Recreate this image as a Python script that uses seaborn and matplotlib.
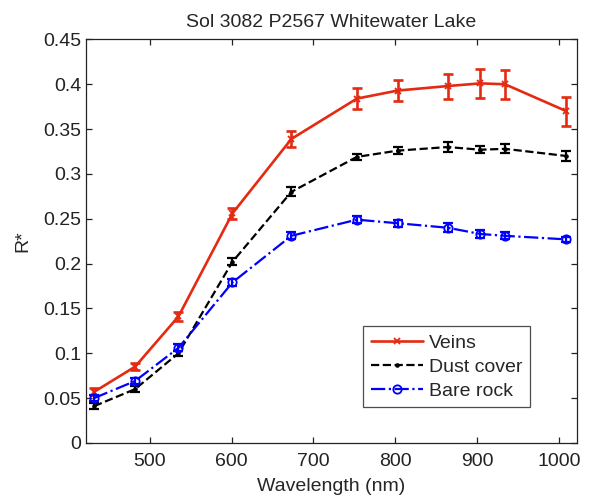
import matplotlib
matplotlib.use("agg")
import matplotlib.pyplot as plt
import numpy as np
import pandas as pd
import seaborn as sns

# Pancam filter wavelengths (nm)
wavelength = [432, 482, 535, 601, 673, 753, 803, 864, 904, 934, 1009]

veins = [0.057, 0.085, 0.141, 0.256, 0.339, 0.384, 0.393, 0.398, 0.401, 0.400, 0.370]
veins_err = [0.004, 0.004, 0.005, 0.006, 0.009, 0.012, 0.012, 0.014, 0.016, 0.016, 0.016]

dust = [0.041, 0.060, 0.100, 0.202, 0.280, 0.319, 0.326, 0.330, 0.327, 0.328, 0.320]
dust_err = [0.003, 0.003, 0.003, 0.004, 0.005, 0.003, 0.004, 0.006, 0.004, 0.005, 0.006]

bare = [0.050, 0.069, 0.106, 0.179, 0.231, 0.249, 0.245, 0.240, 0.233, 0.231, 0.227]
bare_err = [0.003, 0.003, 0.004, 0.004, 0.004, 0.004, 0.004, 0.005, 0.004, 0.004, 0.003]

series = [
    ("Veins", veins, veins_err, "#e52a12", "-", "x", 1.9),
    ("Dust cover", dust, dust_err, "black", "--", ".", 1.6),
    ("Bare rock", bare, bare_err, "#0000ff", "-.", "o", 1.6),
]

FS = 14

sns.set_style("ticks")
plt.rcParams["font.family"] = ["Liberation Sans", "DejaVu Sans"]

fig = plt.figure(figsize=(5.97, 4.96), dpi=100)
ax = fig.add_axes([0.144, 0.107, 0.8225, 0.8135])

for name, vals, errs, color, ls, marker, lw in series:
    df = pd.DataFrame({"wavelength": wavelength, "R": vals})
    sns.lineplot(
        data=df, x="wavelength", y="R", ax=ax, color=color, linestyle=ls,
        linewidth=lw, marker=marker, markersize=6 if marker == "o" else 4,
        markerfacecolor="none" if marker == "o" else color,
        markeredgecolor=color, markeredgewidth=1.3, label=name,
    )
    ax.errorbar(wavelength, vals, yerr=errs, fmt="none", ecolor=color,
                elinewidth=lw, capsize=3.5, capthick=lw)

ax.set_xlim(422, 1022)
ax.set_ylim(0, 0.45)
ax.set_xticks([500, 600, 700, 800, 900, 1000])
ax.set_yticks(np.arange(0, 0.46, 0.05))
ax.set_yticklabels(["0", "0.05", "0.1", "0.15", "0.2", "0.25", "0.3", "0.35", "0.4", "0.45"])
ax.tick_params(direction="in", length=4, width=0.9, top=True, right=True,
               labelsize=FS, colors="#222222")
ax.tick_params(axis="x", pad=7)
ax.tick_params(axis="y", pad=3.5)
for s in ax.spines.values():
    s.set_visible(True)
    s.set_linewidth(0.9)
    s.set_color("#222222")

ax.set_xlabel("Wavelength (nm)", fontsize=FS, labelpad=6)
ax.set_ylabel("R*", fontsize=FS, labelpad=8)
ax.set_title("Sol 3082 P2567 Whitewater Lake", fontsize=FS, pad=9)

leg = ax.legend(loc="lower right", bbox_to_anchor=(0.905, 0.088), fontsize=FS,
                frameon=True, fancybox=False, edgecolor="#222222",
                handlelength=2.7, borderpad=0.4, labelspacing=0.33,
                handletextpad=0.3, borderaxespad=0)
leg.get_frame().set_linewidth(0.9)

fig.savefig("out.png", dpi=100)
